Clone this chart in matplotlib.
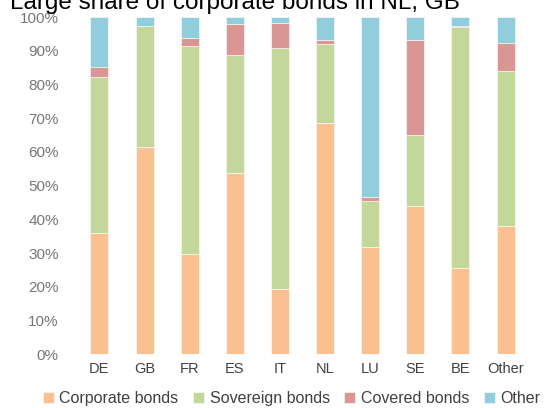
import matplotlib
matplotlib.use("Agg")
import matplotlib.pyplot as plt
import numpy as np

categories = ["DE", "GB", "FR", "ES", "IT", "NL", "LU", "SE", "BE", "Other"]
corporate = [36.0, 61.4, 29.7, 53.7, 19.2, 68.5, 31.7, 44.0, 25.5, 38.0]
sovereign = [46.2, 36.0, 61.8, 35.0, 71.5, 23.4, 13.7, 21.0, 71.6, 46.0]
covered = [3.0, 0.0, 2.4, 9.2, 7.6, 1.3, 1.3, 28.2, 0.4, 8.4]
other = [14.8, 2.6, 6.1, 2.1, 1.7, 6.8, 53.3, 6.8, 2.5, 7.6]
series_names = ["Corporate bonds", "Sovereign bonds", "Covered bonds", "Other"]
colors = ["#FAC090", "#C4D79B", "#DA9694", "#92CDDC"]
yticks = list(range(0, 101, 10))

plt.rcParams['font.family'] = ['Liberation Sans', 'DejaVu Sans']

fig = plt.figure(figsize=(5.45, 4.08), dpi=100)
ax = fig.add_axes([0.141, 0.132, 0.828, 0.826])

x = np.arange(len(categories))
bottom = np.zeros(len(categories))
for vals, name, c in zip([corporate, sovereign, covered, other], series_names, colors):
    ax.bar(x, vals, width=0.4, bottom=bottom, color=c, label=name,
           edgecolor="white", linewidth=0.4)
    bottom += np.array(vals)

ax.set_xlim(-0.5, len(categories) - 0.5)
ax.set_ylim(0, 100)
ax.set_yticks(yticks)
ax.set_yticklabels([f"{t}%" for t in yticks], color="#777777", fontsize=11)
ax.set_xticks(x)
ax.set_xticklabels(categories, color="#404040", fontsize=10.5)
ax.tick_params(length=0, pad=6)
ax.tick_params(axis='y', pad=13)
for s in ax.spines.values():
    s.set_visible(False)

fig.text(0.018, 0.978, "Large share of corporate bonds in NL, GB", fontsize=17.5,
         va="baseline", ha="left", color="black")

fig.legend(loc="center", bbox_to_anchor=(0.535, 0.024), ncol=4, frameon=False,
           fontsize=11.5, handlelength=0.7, handleheight=0.7, handletextpad=0.35,
           columnspacing=0.9, labelcolor="#404040")

fig.savefig("out.png", dpi=100)
